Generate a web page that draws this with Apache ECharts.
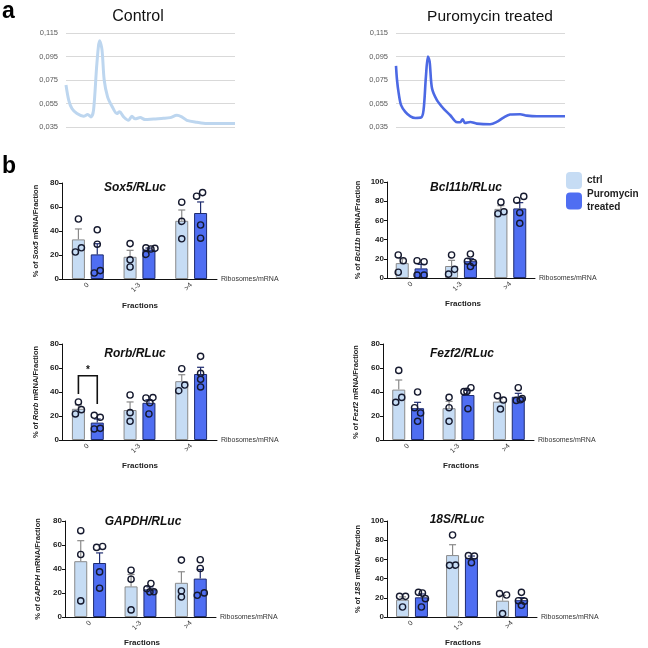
<!DOCTYPE html>
<html><head><meta charset="utf-8">
<script src="https://cdn.jsdelivr.net/npm/echarts@6/dist/echarts.min.js"></script>
<style>html,body{margin:0;padding:0;background:#fff}#c{width:648px;height:648px}</style>
</head><body><div id="c"></div>
<script>
// ================= DATA =================
// Panel a: polysome profiles (x = % of gradient length, y = absorbance)
const controlX = [0,1.6,3.5,6.5,10.4,12.8,14.8,16.3,18.3,19.9,21.3,22.6,24.6,27.2,30.1,31.7,34.1,37.0,39.0,40.9,43.9,46.9,51.8,57.7,61.6,65.6,68.5,71.5,77.4,83.3,100];
const controlY = [0.0707,0.0579,0.0507,0.0464,0.0441,0.0456,0.0436,0.0493,0.0893,0.1084,0.1007,0.075,0.0607,0.0527,0.0464,0.0479,0.0436,0.0407,0.0441,0.042,0.043,0.0413,0.0419,0.0424,0.043,0.045,0.0436,0.0407,0.039,0.0379,0.0379];
const puroX = [0,0.6,1.6,3.0,5.5,8.5,11.4,14.8,16.3,17.7,18.9,19.9,21.3,24.2,28.1,32.1,35.6,38.0,39.4,40.9,43.9,47.8,55.7,59.6,63.6,67.5,73.4,77.4,83.3,100];
const puroY = [0.087,0.075,0.0636,0.0536,0.0479,0.0441,0.0427,0.043,0.0493,0.0779,0.095,0.0907,0.0679,0.0579,0.0507,0.045,0.0393,0.039,0.0416,0.0384,0.0393,0.0379,0.0373,0.0393,0.043,0.0456,0.0459,0.0447,0.0441,0.0441];
const profileTicks = [0.035, 0.055, 0.075, 0.095, 0.115];

// Panel b: fractions
const fractions = ['0', '1-3', '>4'];
const seriesNames = ['ctrl', 'Puromycin treated'];

const sox5CtrlMean = [33, 18.5, 48.5];
const sox5CtrlSem  = [8.7, 5.4, 9.0];
const sox5CtrlPts  = [[50,22.5,26],[29.5,16,10],[64,48,33.5]];
const sox5PuroMean = [20.5, 24.5, 55];
const sox5PuroSem  = [8.9, 1.3, 9.2];
const sox5PuroPts  = [[41,29,5,7],[26,20.5,25,25.5],[69,72,45,34]];

const bcl11bCtrlMean = [15.5, 12.5, 72];
const bcl11bCtrlSem  = [4.6, 5.9, 3.3];
const bcl11bCtrlPts  = [[24,18,6],[24,9,4],[79,67,69]];
const bcl11bPuroMean = [10, 17.5, 72.5];
const bcl11bPuroSem  = [4.2, 2.6, 6.0];
const bcl11bPuroPts  = [[18,17,3,3],[25,17.5,16,12],[81,85,68,57]];

const rorbCtrlMean = [26, 25, 49];
const rorbCtrlSem  = [3.2, 6.7, 5.4];
const rorbCtrlPts  = [[31.7,21.7,25.3],[37.5,22.8,15.6],[59.4,41.1,45.8]];
const rorbPuroMean = [14.5, 31, 55];
const rorbPuroSem  = [3.0, 2.5, 5.6];
const rorbPuroPts  = [[20.6,18.9,9.2,9.7],[35,35.3,31,21.7],[69.7,55.6,50.6,44.2]];
const rorbSignif   = [0, 53.6, 38.3, 30]; // category, bracket top, left leg end, right leg end

const fezf2CtrlMean = [42, 26.5, 32];
const fezf2CtrlSem  = [8.0, 5.7, 2.4];
const fezf2CtrlPts  = [[58,31.4,35.5],[35.5,26.9,15.6],[36.9,33.3,25.8]];
const fezf2PuroMean = [26.5, 37.5, 36];
const fezf2PuroSem  = [4.9, 3.8, 2.9];
const fezf2PuroPts  = [[40,26.9,22.5,15.6],[40.3,40.5,43.6,26.1],[43.6,33,33.5,34.5]];

const gapdhCtrlMean = [46.5, 25.5, 28.5];
const gapdhCtrlSem  = [17.1, 9.9, 9.2];
const gapdhCtrlPts  = [[71.9,52.1,13.4],[39,31.5,5.9],[47.4,21.7,16.7]];
const gapdhPuroMean = [45, 23, 32];
const gapdhPuroSem  = [8.4, 2.1, 7.6];
const gapdhPuroPts  = [[58,58.8,37.6,24],[27.9,23.5,20.9,21],[47.7,40.4,20.1,18.1]];

const s18CtrlMean = [18, 64.5, 17];
const s18CtrlSem  = [3.0, 10.8, 5.6];
const s18CtrlPts  = [[21.5,21.5,10.4],[85.4,53.8,54],[24.3,22.9,3.5]];
const s18PuroMean = [20.5, 61.5, 17.5];
const s18PuroSem  = [3.5, 2.0, 2.6];
const s18PuroPts  = [[25.7,25,19.1,10.4],[63.9,63.5,56.6],[25.7,17,16.5,12.2]];

// ================= LAYOUT / STYLE =================
const FONT = 'Liberation Sans, Arial, sans-serif';
const BAR_W = 13, BAR_GAP = 0.45;
const OFF = (BAR_W + BAR_W * BAR_GAP) / 2;
const CTRL_FILL = '#c6dcf4', CTRL_EDGE = '#8a8a8a';
const PURO_FILL = '#4f6ef2', PURO_EDGE = '#1e2b6e';
const DOT = '#15192e';

// horizontal jitter (px) of the individual points
const jit = {
  Sox5:   {c:[[0,-3,3],[0,0,0],[0,0,0]],   p:[[0,0,-3,3],[-3,-3,2,6],[-4,2,0,0]]},
  Bcl11b: {c:[[-4,1,-4],[0,3,-3],[0,-3,3]], p:[[-4,3,-4,3],[0,-3,3,0],[-3,4,0,0]]},
  Rorb:   {c:[[0,-3,3],[0,0,0],[0,-3,3]],   p:[[-3,3,-3,3],[-3,4,1,0],[0,0,0,0]]},
  Fezf2:  {c:[[0,-3,3],[0,0,0],[-2,4,1]],   p:[[0,-3,3,0],[-4,-1,3,0],[0,-2,2,4]]},
  GAPDH:  {c:[[0,0,0],[0,0,0],[0,0,0]],     p:[[-3,3,0,0],[1,-3,0,4],[0,0,4,-3]]},
  '18S':  {c:[[-3,3,0],[0,-3,3],[-3,4,0]],  p:[[-3,1,4,0],[-3,3,0],[0,-3,3,0]]}
};

const panels = [
  {gene:'Sox5',   yMax:80,  grid:{left:62,  top:183, width:155, height:96}, gap:22, title:[135,188], frac:[140,306],
   cm:sox5CtrlMean, cs:sox5CtrlSem, cp:sox5CtrlPts, pm:sox5PuroMean, ps:sox5PuroSem, pp:sox5PuroPts},
  {gene:'Bcl11b', yMax:100, grid:{left:387, top:182, width:148, height:96}, gap:25, title:[466,188], frac:[463,304],
   cm:bcl11bCtrlMean, cs:bcl11bCtrlSem, cp:bcl11bCtrlPts, pm:bcl11bPuroMean, ps:bcl11bPuroSem, pp:bcl11bPuroPts},
  {gene:'Rorb',   yMax:80,  grid:{left:62,  top:344, width:155, height:96}, gap:22, title:[135,354], frac:[140,466],
   cm:rorbCtrlMean, cs:rorbCtrlSem, cp:rorbCtrlPts, pm:rorbPuroMean, ps:rorbPuroSem, pp:rorbPuroPts},
  {gene:'Fezf2',  yMax:80,  grid:{left:383, top:344, width:151, height:96}, gap:23, title:[462,354], frac:[461,466],
   cm:fezf2CtrlMean, cs:fezf2CtrlSem, cp:fezf2CtrlPts, pm:fezf2PuroMean, ps:fezf2PuroSem, pp:fezf2PuroPts},
  {gene:'GAPDH',  yMax:80,  grid:{left:65,  top:521, width:151, height:96}, gap:23, title:[143,522], frac:[142,643],
   cm:gapdhCtrlMean, cs:gapdhCtrlSem, cp:gapdhCtrlPts, pm:gapdhPuroMean, ps:gapdhPuroSem, pp:gapdhPuroPts},
  {gene:'18S',    yMax:100, grid:{left:387, top:521, width:150, height:96}, gap:25, title:[457,520], frac:[463,643],
   cm:s18CtrlMean, cs:s18CtrlSem, cp:s18CtrlPts, pm:s18PuroMean, ps:s18PuroSem, pp:s18PuroPts}
];

function errRender(offset, color) {
  return function (params, api) {
    const b = api.coord([api.value(0), api.value(1)]);
    const t = api.coord([api.value(0), api.value(1) + api.value(2)]);
    const x = b[0] + offset;
    return {type:'group', children:[
      {type:'line', shape:{x1:x, y1:b[1], x2:x, y2:t[1]}, style:{stroke:color, lineWidth:1.2}},
      {type:'line', shape:{x1:x-3.5, y1:t[1], x2:x+3.5, y2:t[1]}, style:{stroke:color, lineWidth:1.2}}
    ]};
  };
}
function dotRender(offset) {
  return function (params, api) {
    const p = api.coord([api.value(0), api.value(1)]);
    return {type:'circle', shape:{cx:p[0] + offset + api.value(2), cy:p[1], r:3.1},
            style:{fill:'rgba(0,0,0,0)', stroke:DOT, lineWidth:1.4}};
  };
}
function dotsData(pts, j) {
  const out = [];
  pts.forEach((arr, ci) => arr.forEach((v, k) => out.push([ci, v, j[ci][k]])));
  return out;
}

// text helper: centred at (x, y)
function label(text, x, y, style) {
  return {type:'text', x:x, y:y, silent:true,
    style:Object.assign({text:text, fontFamily:FONT, align:'center', verticalAlign:'middle', fill:'#111'}, style)};
}

const grids = [], xAxes = [], yAxes = [], series = [], texts = [];

panels.forEach((P, i) => {
  grids.push(P.grid);
  xAxes.push({
    type:'category', gridIndex:i, data:fractions,
    axisLine:{lineStyle:{color:'#111', width:1}},
    axisTick:{alignWithLabel:true, length:3, lineStyle:{color:'#111'}},
    axisLabel:{rotate:45, fontSize:7, color:'#333', fontFamily:FONT, margin:5},
    name:'Ribosomes/mRNA', nameLocation:'end', nameGap:4,
    nameTextStyle:{fontSize:7, color:'#333', fontFamily:FONT, padding:[12,0,0,0]}
  });
  yAxes.push({
    type:'value', gridIndex:i, min:0, max:P.yMax, interval:20,
    axisLine:{show:true, lineStyle:{color:'#111', width:1}},
    axisTick:{show:true, length:3, lineStyle:{color:'#111'}},
    axisLabel:{fontSize:8, fontWeight:'bold', color:'#222', fontFamily:FONT, margin:3},
    splitLine:{show:false},
    name:'% of {i|' + P.gene + '} mRNA/Fraction', nameLocation:'middle', nameGap:P.gap, nameRotate:90,
    nameTextStyle:{fontSize:7.5, fontWeight:'bold', color:'#222', fontFamily:FONT,
      rich:{i:{fontStyle:'italic', fontWeight:'bold', fontSize:7.5, color:'#222', fontFamily:FONT}}}
  });
  series.push({
    type:'bar', name:seriesNames[0], xAxisIndex:i, yAxisIndex:i, data:P.cm, barWidth:BAR_W, barGap:(BAR_GAP*100)+'%',
    itemStyle:{color:CTRL_FILL, borderColor:CTRL_EDGE, borderWidth:1}, z:2
  });
  series.push({
    type:'bar', name:seriesNames[1], xAxisIndex:i, yAxisIndex:i, data:P.pm, barWidth:BAR_W, barGap:(BAR_GAP*100)+'%',
    itemStyle:{color:PURO_FILL, borderColor:PURO_EDGE, borderWidth:1}, z:2
  });
  series.push({
    type:'custom', xAxisIndex:i, yAxisIndex:i, z:3, silent:true,
    renderItem:errRender(-OFF, CTRL_EDGE), encode:{x:0, y:1},
    data:P.cm.map((m, k) => [k, m, P.cs[k]])
  });
  series.push({
    type:'custom', xAxisIndex:i, yAxisIndex:i, z:3, silent:true,
    renderItem:errRender(OFF, PURO_EDGE), encode:{x:0, y:1},
    data:P.pm.map((m, k) => [k, m, P.ps[k]])
  });
  series.push({
    type:'custom', xAxisIndex:i, yAxisIndex:i, z:4, silent:true,
    renderItem:dotRender(-OFF), encode:{x:0, y:1}, data:dotsData(P.cp, jit[P.gene].c)
  });
  series.push({
    type:'custom', xAxisIndex:i, yAxisIndex:i, z:4, silent:true,
    renderItem:dotRender(OFF), encode:{x:0, y:1}, data:dotsData(P.pp, jit[P.gene].p)
  });
  texts.push(label(P.gene + '/RLuc', P.title[0], P.title[1], {fontSize:12, fontWeight:'bold', fontStyle:'italic'}));
  texts.push(label('Fractions', P.frac[0], P.frac[1], {fontSize:8, fontWeight:'bold', fill:'#222'}));
});

// significance bracket on Rorb panel (grid index 2)
series.push({
  type:'custom', xAxisIndex:2, yAxisIndex:2, z:5, silent:true, encode:{x:0, y:1},
  data:[rorbSignif],
  renderItem:function (params, api) {
    const c = api.value(0);
    const top = api.coord([c, api.value(1)]);
    const l = api.coord([c, api.value(2)]);
    const r = api.coord([c, api.value(3)]);
    const xl = top[0] - OFF, xr = top[0] + OFF;
    return {type:'group', children:[
      {type:'polyline', shape:{points:[[xl, l[1]], [xl, top[1]], [xr, top[1]], [xr, r[1]]]},
       style:{stroke:'#111', lineWidth:1.6, fill:null}},
      {type:'text', x:top[0], y:top[1] - 5, style:{text:'*', fontSize:10, fontWeight:'bold', fill:'#111',
       fontFamily:FONT, align:'center', verticalAlign:'middle'}}
    ]};
  }
});

// profile charts (grid indices 6, 7)
const profileGrids = [
  {left:66, top:33, width:169, height:94},
  {left:396, top:33, width:169, height:94}
];
[[controlX, controlY, '#bdd6ef', 3], [puroX, puroY, '#4c69e4', 2.6]].forEach((d, k) => {
  const gi = 6 + k;
  grids.push(profileGrids[k]);
  xAxes.push({type:'value', gridIndex:gi, min:0, max:100, show:false});
  yAxes.push({
    type:'value', gridIndex:gi, min:profileTicks[0], max:profileTicks[profileTicks.length-1],
    interval:profileTicks[1] - profileTicks[0],
    axisLine:{show:false}, axisTick:{show:false},
    axisLabel:{fontSize:7.5, color:'#595959', fontFamily:FONT, margin:8,
      formatter:v => v.toFixed(3).replace('.', ',')},
    splitLine:{show:true, lineStyle:{color:'#d9d9d9', width:1}}
  });
  series.push({
    type:'line', xAxisIndex:gi, yAxisIndex:gi, showSymbol:false, smooth:0.3, silent:true,
    data:d[0].map((x, n) => [x, d[1][n]]),
    lineStyle:{color:d[2], width:d[3]}, z:3
  });
});
texts.push(label('Control', 138, 17, {fontSize:16}));
texts.push(label('Puromycin treated', 490, 17, {fontSize:15.5}));
texts.push({type:'text', left:2, top:0, style:{text:'a', font:'bold 23px ' + FONT, fill:'#000'}});
texts.push({type:'text', left:2, top:155, style:{text:'b', font:'bold 23px ' + FONT, fill:'#000'}});

const chart = echarts.init(document.getElementById('c'), null, {renderer:'canvas'});
chart.setOption({
  backgroundColor:'#fff',
  animation:false,
  grid:grids,
  xAxis:xAxes,
  yAxis:yAxes,
  legend:{
    data:seriesNames, orient:'vertical', left:566, top:172, padding:0, itemWidth:16, itemHeight:17, itemGap:-1,
    itemStyle:{borderWidth:0}, selectedMode:false,
    formatter:n => n === 'ctrl' ? 'ctrl' : 'Puromycin\ntreated',
    textStyle:{fontSize:10, fontWeight:'bold', color:'#222', fontFamily:FONT, lineHeight:13}
  },
  graphic:texts,
  series:series
});
</script>
</body></html>
